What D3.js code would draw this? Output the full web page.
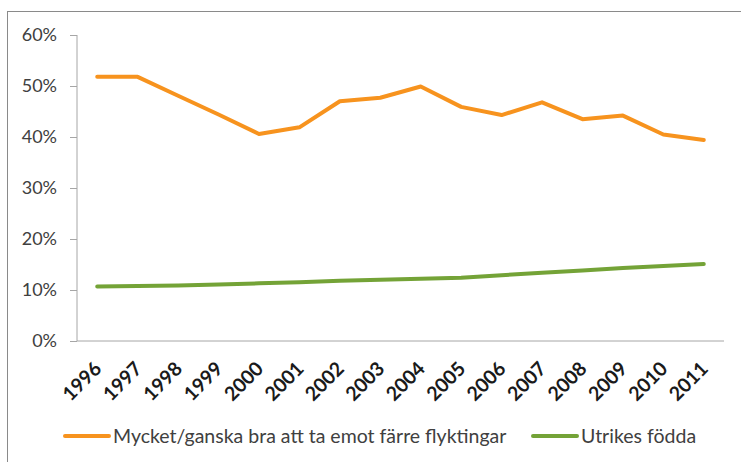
<!DOCTYPE html>
<html>
<head>
<meta charset="utf-8">
<script src="https://cdn.jsdelivr.net/npm/d3@7"></script>
<style>
body { margin: 0; background: #fff; }
svg { display: block; }
</style>
</head>
<body>
<div id="chart"></div>
<script>
// data
var years = ["1996","1997","1998","1999","2000","2001","2002","2003","2004","2005","2006","2007","2008","2009","2010","2011"];
var farreFlyktingar = [51.8, 51.8, 48.1, 44.4, 40.6, 41.9, 47.0, 47.7, 49.9, 45.9, 44.3, 46.8, 43.5, 44.2, 40.5, 39.4];
var utrikesFodda = [10.7, 10.8, 10.9, 11.1, 11.3, 11.5, 11.8, 12.0, 12.2, 12.4, 12.9, 13.4, 13.8, 14.3, 14.7, 15.1];
var yTicks = [0, 10, 20, 30, 40, 50, 60];
var seriesNames = ["Mycket/ganska bra att ta emot färre flyktingar", "Utrikes födda"];

var W = 741, H = 462;
var m = {left: 77, right: 724, top: 35, bottom: 341};
var font = "Lato, 'Open Sans', sans-serif";

var svg = d3.select("#chart").append("svg")
  .attr("width", W)
  .attr("height", H);

// frame (right and bottom edges fall outside the picture)
svg.append("rect")
  .attr("x", 7.5).attr("y", 11.5)
  .attr("width", 800).attr("height", 500)
  .attr("fill", "none")
  .attr("stroke", "#8a8a8a")
  .attr("stroke-width", 1);

var x = d3.scalePoint()
  .domain(years)
  .range([m.left, m.right])
  .padding(0.5);

var y = d3.scaleLinear()
  .domain([0, 60])
  .range([m.bottom, m.top]);

// y axis
var yAxis = svg.append("g")
  .attr("transform", "translate(" + m.left + ",0)")
  .call(d3.axisLeft(y).tickValues(yTicks).tickSize(7).tickPadding(13).tickFormat(function (d) { return d + "%"; }));
yAxis.select(".domain").attr("stroke", "#a6a6a6").attr("d", "M0," + m.top + "V" + m.bottom);
yAxis.selectAll(".tick line").attr("stroke", "#a6a6a6");
yAxis.selectAll("text")
  .attr("fill", "#404040")
  .style("font-family", font)
  .style("font-size", "18px");

// x axis
var xAxis = svg.append("g")
  .attr("transform", "translate(0," + m.bottom + ")")
  .call(d3.axisBottom(x).tickSize(0));
xAxis.select(".domain").attr("stroke", "#a6a6a6").attr("d", "M" + m.left + ",0H" + m.right);
xAxis.selectAll("text")
  .attr("fill", "#1a1a1a")
  .style("font-family", font)
  .style("font-size", "19.5px")
  .style("font-weight", "bold")
  .attr("text-anchor", "end")
  .attr("y", 0)
  .attr("dy", "0")
  .attr("transform", "translate(5,29) rotate(-45)");

// lines
var line = d3.line()
  .x(function (d, i) { return x(years[i]); })
  .y(function (d) { return y(d); });

var colors = ["#f7931e", "#74a337"];
[farreFlyktingar, utrikesFodda].forEach(function (s, k) {
  svg.append("path")
    .datum(s)
    .attr("d", line)
    .attr("fill", "none")
    .attr("stroke", colors[k])
    .attr("stroke-width", 4)
    .attr("stroke-linejoin", "round")
    .attr("stroke-linecap", "round");
});

// legend
var legendX = [65, 533];
var legendY = 436;
seriesNames.forEach(function (name, k) {
  svg.append("line")
    .attr("x1", legendX[k]).attr("x2", legendX[k] + 44)
    .attr("y1", legendY).attr("y2", legendY)
    .attr("stroke", colors[k])
    .attr("stroke-width", 4)
    .attr("stroke-linecap", "round");
  svg.append("text")
    .attr("x", legendX[k] + 48)
    .attr("y", legendY)
    .attr("dy", "0.35em")
    .attr("fill", "#404040")
    .style("font-family", font)
    .style("font-size", "19.5px")
    .text(name);
});
</script>
</body>
</html>
